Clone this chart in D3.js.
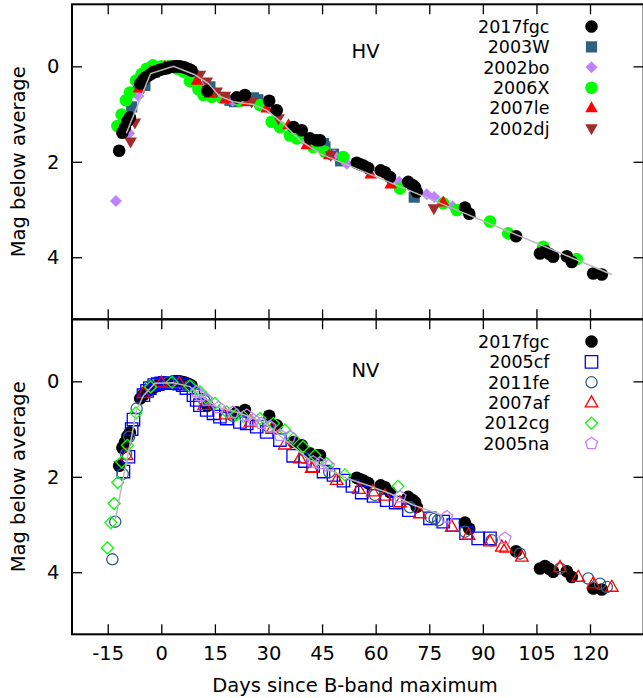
<!DOCTYPE html>
<html>
<head>
<meta charset="utf-8">
<script src="https://cdn.jsdelivr.net/npm/d3@7"></script>
<style>
  html, body { margin: 0; padding: 0; background: #fff; }
  svg { display: block; font-family: "DejaVu Sans", sans-serif; }
</style>
</head>
<body>
<svg id="chart" width="643" height="698"></svg>
<script>
// ---------------- DATA ----------------
const xTicks = [-15, 0, 15, 30, 45, 60, 75, 90, 105, 120];
const yTicks = [0, 2, 4];

// [days since B max, mag below average]
const sn2017fgc = [
  [-11.8,1.77],[-10.9,1.39],[-10.2,1.28],[-9.5,1.15],[-8.8,1.07],[-5.9,0.36],[-5.0,0.28],[-4.4,0.23],
  [-3.5,0.19],[-2.7,0.15],[-2.0,0.12],[-1.3,0.10],[-0.6,0.08],[0.1,0.06],[0.8,0.05],[1.5,0.04],
  [2.2,0.02],[2.9,0.01],[3.6,0.0],[4.3,0.0],[5.0,0.0],[5.7,0.01],[6.4,0.02],[7.1,0.04],[7.8,0.06],
  [8.5,0.09],[12.9,0.51],[21.1,0.65],[23.4,0.60],[30.2,0.72],[32.3,0.92],[37.0,1.27],[39.3,1.34],
  [41.6,1.51],[43.5,1.55],[44.4,1.55],[54.7,2.02],[55.6,2.05],[56.6,2.08],[57.9,2.13],[61.4,2.18],
  [62.6,2.22],[64.0,2.32],[69.1,2.42],[70.2,2.48],[71.0,2.53],[71.5,2.63],[85.0,2.96],[86.2,3.09],
  [99.3,3.56],[106.0,3.92],[107.4,3.87],[108.6,3.93],[109.7,3.99],[113.5,3.98],[114.9,4.10],
  [120.9,4.34],[123.3,4.36]
];

// HV comparison objects
const sn2003W = [
  [-8.3,0.85],[-6.4,0.46],[-4.6,0.40],[-2.0,0.12],[1.0,0.03],[5.0,0.02],[9.0,0.20],[13.6,0.43],
  [19.2,0.71],[20.5,0.74],[25.8,0.66],[27.0,0.70],[45.4,1.62],[45.8,1.69],[48.2,1.84],[50.2,1.98],[70.8,2.74]
];
const sn2002bo = [
  [-12.7,2.82],[-9.0,1.40],[-6.4,0.62],[-3.0,0.10],[2.0,0.00],[7.0,0.06],[12.0,0.38],[20.0,0.72],
  [30.0,0.88],[40.0,1.55],[44.8,1.72],[48.4,1.86],[51.9,2.04],[66.6,2.42],[74.3,2.68],[76.4,2.74],[81.5,2.93]
];
const sn2006X = [
  [-12.3,1.25],[-11.1,1.01],[-9.9,0.71],[-8.8,0.55],[-7.1,0.30],[-5.5,0.16],[-4.1,0.05],[-2.4,-0.02],
  [0.0,0.00],[2.0,0.00],[4.5,0.05],[6.2,0.11],[8.0,0.31],[10.4,0.48],[11.8,0.60],[14.1,0.64],[17.0,0.66],
  [22.0,0.72],[27.6,0.81],[30.9,1.16],[33.2,1.27],[36.0,1.45],[37.9,1.51],[42.5,1.69],[45.8,1.79],
  [50.9,1.90],[66.8,2.56],[78.9,2.87],[82.7,3.01],[92.0,3.25],[97.1,3.50],[106.9,3.78],[116.3,4.04]
];
const sn2007le = [
  [-6.3,0.46],[-3.0,0.12],[1.0,0.00],[5.0,0.02],[10.0,0.30],[13.6,0.57],[18.0,0.68],[24.0,0.75],
  [29.5,0.88],[35.6,1.23],[40.7,1.65],[47.0,1.86],[58.6,2.26],[64.2,2.47],[78.9,2.85],[86.5,3.08]
];
const sn2002dj = [
  [-8.6,1.58],[-7.4,1.18],[10.8,0.18],[12.7,0.32],[15.5,0.53],[17.8,0.62],[25.3,0.74],[32.8,1.09],
  [47.4,1.86],[76.3,2.98]
];

// NV comparison objects
const sn2005cf = [
  [-10.6,1.89],[-9.2,1.58],[-8.3,1.00],[-7.8,0.80],[-5.0,0.29],[-4.0,0.20],[-3.2,0.14],[-2.0,0.08],
  [-1.0,0.06],[0.0,0.04],[1.0,0.03],[2.0,0.03],[3.0,0.03],[4.0,0.04],[5.0,0.05],[6.0,0.08],[7.0,0.14],
  [9.0,0.29],[9.9,0.39],[10.8,0.50],[12.7,0.60],[14.6,0.67],[16.4,0.74],[18.3,0.78],[22.0,0.85],
  [23.9,0.88],[26.7,0.95],[29.5,1.06],[33.2,1.23],[36.9,1.56],[40.2,1.67],[42.5,1.77],[45.4,1.89],
  [48.2,1.96],[51.0,2.08],[53.5,2.19],[56.1,2.33],[59.4,2.40],[63.1,2.49],[65.6,2.54],[69.3,2.70],
  [75.2,2.87],[78.9,2.94],[81.7,3.01],[85.3,3.18],[88.7,3.29],[92.0,3.29]
];
const sn2011fe = [
  [-13.7,3.73],[-12.9,2.94],[-10.8,1.94],[-9.9,1.52],[-9.0,1.16],[-6.9,0.57],[-3.0,0.10],[2.0,0.02],
  [8.0,0.10],[12.0,0.40],[20.0,0.72],[30.0,0.95],[40.0,1.60],[47.0,1.90],[59.8,2.38],[69.6,2.64],
  [75.4,2.84],[76.5,2.88],[77.5,2.91],[85.0,3.15],[92.5,3.33],[100.4,3.61],[111.6,3.92],[119.5,4.13],
  [122.8,4.24],[124.7,4.31]
];
const sn2007af = [
  [-9.7,1.55],[-5.0,0.25],[0.0,0.03],[5.0,0.04],[12.0,0.50],[18.0,0.70],[25.0,0.85],[31.0,1.00],
  [34.6,1.33],[38.8,1.62],[42.1,1.82],[49.1,2.07],[55.3,2.26],[59.2,2.31],[62.6,2.40],[66.8,2.54],
  [72.4,2.77],[81.3,3.05],[86.0,3.22],[92.0,3.36],[95.3,3.47],[96.4,3.49],[100.9,3.68],[111.6,3.90],
  [116.7,4.10],[120.9,4.24],[126.1,4.31]
];
const sn2012cg = [
  [-15.1,3.49],[-14.1,2.96],[-13.2,2.56],[-12.2,2.12],[-11.1,1.69],[-9.5,1.34],[-7.1,0.66],[-3.0,0.12],
  [3.0,0.02],[8.0,0.10],[10.8,0.22],[12.5,0.35],[15.0,0.46],[18.3,0.64],[21.0,0.70],[23.0,0.74],
  [27.6,0.78],[31.4,0.88],[34.6,1.02],[37.0,1.20],[39.7,1.37],[43.0,1.55],[46.3,1.72],[51.4,1.96],[66.2,2.20]
];
const sn2005na = [
  [9.9,0.22],[11.0,0.30],[12.7,0.39],[16.0,0.55],[20.0,0.65],[23.9,0.71],[25.8,0.81],[28.0,0.88],
  [30.4,0.95],[33.2,1.13],[36.0,1.16],[42.5,1.69],[44.5,1.72],[46.8,1.77],[66.8,2.42],[79.9,2.84],[96.2,3.29]
];

// average templates (grey curves)
const templateHV = [
  [-9.8,1.40],[-3.0,0.15],[3.4,0.00],[9.2,0.17],[13.2,0.36],[16.2,0.62],[20.2,0.74],[25.8,0.80],
  [29.5,0.92],[34.1,1.20],[38.8,1.55],[44.4,1.83],[85.0,3.08],[126.1,4.36]
];
const templateNV = [
  [-12.8,2.88],[-10.6,2.00],[-8.3,1.15],[-6.9,0.60],[-5.0,0.30],[-1.8,0.04],[3.4,0.03],[8.0,0.11],
  [10.8,0.29],[15.5,0.53],[22.0,0.67],[28.6,0.85],[33.2,1.14],[41.6,1.65],[51.9,2.03],[57.5,2.17],
  [64.0,2.35],[70.5,2.59],[78.5,2.80]
];

const hvSeries = [
  { name: "2017fgc", data: sn2017fgc, shape: "circle",  color: "#000000" },
  { name: "2003W",   data: sn2003W,   shape: "square",  color: "#306080" },
  { name: "2002bo",  data: sn2002bo,  shape: "diamond", color: "#c080ff" },
  { name: "2006X",   data: sn2006X,   shape: "circle",  color: "#00ff00" },
  { name: "2007le",  data: sn2007le,  shape: "triUp",   color: "#ff0000" },
  { name: "2002dj",  data: sn2002dj,  shape: "triDown", color: "#a52a2a" }
];
const nvSeries = [
  { name: "2017fgc", data: sn2017fgc, shape: "circle",   color: "#000000", filled: true },
  { name: "2005cf",  data: sn2005cf,  shape: "square",   color: "#0000ff" },
  { name: "2011fe",  data: sn2011fe,  shape: "circle",   color: "#306080" },
  { name: "2007af",  data: sn2007af,  shape: "triUp",    color: "#ff0000" },
  { name: "2012cg",  data: sn2012cg,  shape: "diamond",  color: "#00ff00" },
  { name: "2005na",  data: sn2005na,  shape: "pentagon", color: "#c080ff" }
];

// ---------------- DRAWING ----------------
const svg = d3.select("#chart");
const FS = 19.5;      // axis / tick / panel label font size
const LFS = 17.5;     // legend font size (rows are 20.4 px apart)
const x = d3.scaleLinear().domain([-25, 135]).range([72, 643.6]);
const panels = [
  { y: d3.scaleLinear().domain([-1.3, 5.3]).range([4.3, 319.3]), series: hvSeries, filled: true,
    label: "HV", tmpl: templateHV, labelPos: [365.5, 51], legendY: 26.5, xLabels: false },
  { y: d3.scaleLinear().domain([-1.3, 5.3]).range([319.3, 634.3]), series: nvSeries, filled: false,
    label: "NV", tmpl: templateNV, labelPos: [365.5, 370], legendY: 341.5, xLabels: true }
];

function shapePath(shape, open) {
  switch (shape) {
    case "circle": { const r = open ? 5.6 : 6.3;
      return `M${r},0A${r},${r} 0 1,1 ${-r},0A${r},${r} 0 1,1 ${r},0Z`; }
    case "square": { const s = open ? 6.2 : 5.6;
      return `M${-s},${-s}H${s}V${s}H${-s}Z`; }
    case "diamond": { const h = 6.0;
      return `M0,${-h}L${h},0L0,${h}L${-h},0Z`; }
    case "triUp": { const w = 6.3;
      return `M0,${-6.8}L${w},${4.2}L${-w},${4.2}Z`; }
    case "triDown": { const w = 6.3;
      return `M0,${6.8}L${w},${-4.2}L${-w},${-4.2}Z`; }
    case "pentagon": { const r = 6.3; const pts = d3.range(5).map(i => {
        const a = -Math.PI / 2 + i * 2 * Math.PI / 5; return [r * Math.cos(a), r * Math.sin(a)]; });
      return "M" + pts.map(p => p.join(",")).join("L") + "Z"; }
  }
}

panels.forEach((p, pi) => {
  const g = svg.append("g");
  const y = p.y;
  const [y0, y1] = y.range();

  // draw order: top panel -> comparisons then 2017fgc; bottom -> 2017fgc first
  const order = pi === 0 ? p.series.slice(1).concat([p.series[0]]) : p.series.slice();
  order.forEach(s => {
    const isFilled = p.filled || s.filled;
    g.append("g").selectAll("path").data(s.data).join("path")
      .attr("d", shapePath(s.shape, !isFilled))
      .attr("transform", d => `translate(${x(d[0])},${y(d[1])})`)
      .attr("fill", isFilled ? s.color : "none")
      .attr("stroke", isFilled ? "none" : s.color)
      .attr("stroke-width", isFilled ? 0 : 1.3);
  });

  // template line
  g.append("path").datum(p.tmpl)
    .attr("d", d3.line().x(d => x(d[0])).y(d => y(d[1])))
    .attr("fill", "none").attr("stroke", "#b8b8b8").attr("stroke-width", 1.5);

  // axes (inward ticks, mirrored)
  const fmt = d => String(d);
  const axB = g.append("g").attr("transform", `translate(0,${y1})`)
    .call(d3.axisBottom(x).tickValues(xTicks).tickSizeInner(-10).tickSizeOuter(0).tickPadding(12)
      .tickFormat(p.xLabels ? fmt : () => ""));
  const axT = g.append("g").attr("transform", `translate(0,${y0})`)
    .call(d3.axisTop(x).tickValues(xTicks).tickSizeInner(-10).tickSizeOuter(0).tickFormat(() => ""));
  const axL = g.append("g").attr("transform", `translate(${x.range()[0]},0)`)
    .call(d3.axisLeft(y).tickValues(yTicks).tickSizeInner(-10).tickSizeOuter(0).tickPadding(12.5)
      .tickFormat(fmt));
  const axR = g.append("g").attr("transform", `translate(${x.range()[1]},0)`)
    .call(d3.axisRight(y).tickValues(yTicks).tickSizeInner(-10).tickSizeOuter(0).tickFormat(() => ""));
  [axB, axT, axL, axR].forEach(a => {
    a.select(".domain").remove();
    a.selectAll(".tick line").attr("stroke", "#000").attr("stroke-width", 1.3);
    a.selectAll("text").attr("font-size", FS).attr("font-family", "DejaVu Sans").attr("fill", "#000");
  });
  if (!p.xLabels) axB.selectAll("text").remove();
  axT.selectAll("text").remove();
  axR.selectAll("text").remove();

  // frame
  g.append("rect").attr("x", x.range()[0]).attr("y", y0)
    .attr("width", x.range()[1] - x.range()[0]).attr("height", y1 - y0)
    .attr("fill", "none").attr("stroke", "#000").attr("stroke-width", 2);

  // panel label
  g.append("text").attr("x", p.labelPos[0]).attr("y", p.labelPos[1] + 0.36 * FS)
    .attr("text-anchor", "middle").attr("font-size", FS).text(p.label);

  // y label
  g.append("text").attr("transform", `translate(25,${(y0 + y1) / 2}) rotate(-90)`)
    .attr("text-anchor", "middle").attr("font-size", FS).text("Mag below average");

  // legend
  const lg = g.append("g");
  p.series.forEach((s, i) => {
    const ry = p.legendY + i * 20.4;
    const isFilled = p.filled || s.filled;
    lg.append("text").attr("x", 549.5).attr("y", ry + 0.36 * LFS)
      .attr("text-anchor", "end").attr("font-size", LFS).text(s.name);
    lg.append("path").attr("d", shapePath(s.shape, !isFilled))
      .attr("transform", `translate(591.5,${ry})`)
      .attr("fill", isFilled ? s.color : "none")
      .attr("stroke", isFilled ? "none" : s.color)
      .attr("stroke-width", isFilled ? 0 : 1.3);
  });
});

// x-axis label
svg.append("text").attr("x", 355).attr("y", 691.5).attr("text-anchor", "middle")
  .attr("font-size", FS).text("Days since B-band maximum");
</script>
</body>
</html>
